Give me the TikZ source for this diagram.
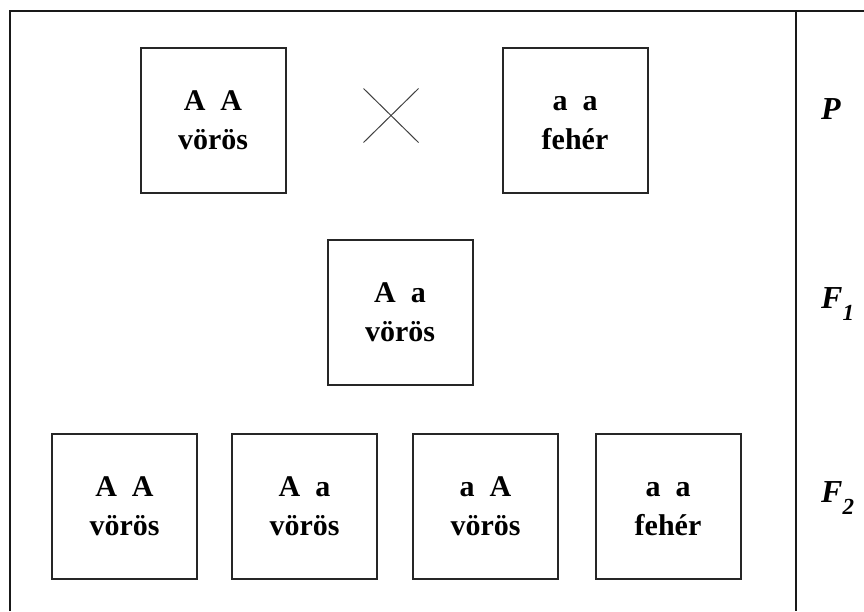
\documentclass[tikz,border=0pt]{standalone}
\usepackage{fontspec}
\setmainfont{Liberation Serif}
\usetikzlibrary{shapes.misc}
\tikzset{
  genobox/.style={draw=black!85, line width=2pt, minimum width=145pt, minimum height=145pt,
    inner sep=0pt, align=center, font=\fontsize{30}{39}\selectfont\bfseries},
  genlabel/.style={inner sep=0pt, font=\fontsize{32}{32}\selectfont\bfseries\itshape},
  frameline/.style={line width=2pt, black!90}
}
% fixed line height so every box puts its two baselines at the same place
\newcommand{\gstrut}{\rule[-9pt]{0pt}{37pt}}
\newcommand{\geno}[2]{\gstrut#1\\\gstrut#2}
\newcommand{\gensub}[1]{\raisebox{-12pt}{\fontsize{23}{23}\selectfont #1}}
\begin{document}
\begin{tikzpicture}[x=1pt,y=-1pt]
  \useasboundingbox (0,0) rectangle (864,611);
  % frame and column divider
  \draw[frameline] (9.5,611) -- (9.5,11) -- (864,11);
  \draw[frameline] (796,11) -- (796,611);

  % P generation
  \node[genobox] (p1) at (213,120) {\geno{A~~A}{vörös}};
  \node[cross out, draw=black!75, line width=1pt, minimum width=54pt, minimum height=53pt, inner sep=0pt] (cross) at (391,115.5) {};
  \node[genobox] (p2) at (575,120) {\geno{a~~a}{fehér}};

  % F1 generation
  \node[genobox] (f1) at (400,312) {\geno{A~~a}{vörös}};

  % F2 generation
  \node[genobox] (f2a) at (124.5,506) {\geno{A~~A}{vörös}};
  \node[genobox] (f2b) at (304.5,506) {\geno{A~~a}{vörös}};
  \node[genobox] (f2c) at (485.5,506) {\geno{a~~A}{vörös}};
  \node[genobox] (f2d) at (668,506) {\geno{a~~a}{fehér}};

  % generation labels
  \node[genlabel] (lp) at (831,109) {P};
  \node[genlabel, anchor=base west] (lf1) at (821,308) {F\gensub{1}};
  \node[genlabel, anchor=base west] (lf2) at (821,502) {F\gensub{2}};
\end{tikzpicture}
\end{document}
